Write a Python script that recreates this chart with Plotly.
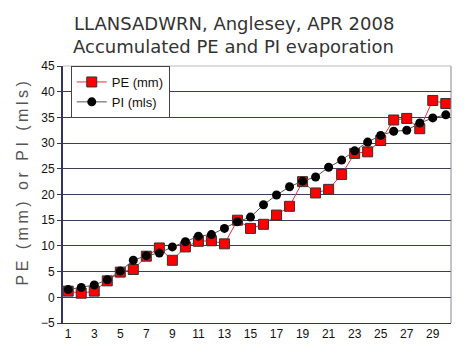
import plotly.graph_objects as go

days = list(range(1, 31))
pe_mm = [1.2, 0.8, 1.2, 3.2, 4.9, 5.4, 8.0, 9.6, 7.2, 9.8, 10.9, 11.0, 10.4, 15.0, 13.4,
         14.2, 16.0, 17.7, 22.5, 20.3, 21.0, 23.9, 28.0, 28.3, 30.5, 34.5, 34.8, 32.8, 38.3, 37.7]
pi_mls = [1.5, 1.9, 2.4, 3.4, 5.1, 7.2, 8.1, 8.6, 9.8, 10.8, 11.9, 12.2, 13.4, 14.7, 15.6,
          18.0, 19.9, 21.5, 22.6, 23.4, 25.3, 26.7, 28.5, 30.2, 31.5, 32.3, 32.5, 33.9, 34.9, 35.5]
x_ticks = list(range(1, 30, 2))
y_ticks = list(range(-5, 46, 5))
title_lines = ["LLANSADWRN, Anglesey, APR 2008", "Accumulated PE and PI evaporation"]
y_title = "PE (mm) or PI (mls)"

fig = go.Figure()
fig.add_trace(go.Scatter(
    x=days, y=pe_mm, name="PE (mm)", mode="lines+markers",
    line=dict(color="#e8303a", width=1),
    marker=dict(symbol="square", size=10, color="#ff0000", line=dict(color="#333333", width=1)),
))
fig.add_trace(go.Scatter(
    x=days, y=pi_mls, name="PI (mls)", mode="lines+markers",
    line=dict(color="#555555", width=1),
    marker=dict(symbol="circle", size=9, color="#000000"),
))

title_font = dict(family="DejaVu Sans, Verdana, sans-serif", size=18, color="#333333")
fig.update_layout(
    width=469, height=353,
    margin=dict(l=63, r=18, t=66, b=25),
    paper_bgcolor="white", plot_bgcolor="white",
    font=dict(family="Liberation Sans, Arial, sans-serif", size=12, color="#111111"),
    showlegend=True,
    legend=dict(
        x=0.02, y=1.0, xanchor="left", yanchor="top",
        bgcolor="white", bordercolor="#444444", borderwidth=1,
        font=dict(size=13, color="#111111"),
        itemwidth=30, tracegroupgap=2,
    ),
    annotations=[
        dict(text=title_lines[0], xref="paper", yref="paper", x=0.44, y=1.0,
             xanchor="center", yanchor="middle", showarrow=False,
             font=title_font, yshift=66 - 23),
        dict(text=title_lines[1], xref="paper", yref="paper", x=0.44, y=1.0,
             xanchor="center", yanchor="middle", showarrow=False,
             font=title_font, yshift=66 - 46),
        dict(text='<span style="letter-spacing:3.5px">' + y_title + '</span>',
             xref="paper", yref="paper", x=0, y=0.5,
             xanchor="center", yanchor="middle", showarrow=False, textangle=-90,
             xshift=-41, yshift=13,
             font=dict(family="Liberation Sans, Arial, sans-serif", size=16, color="#555555")),
    ],
)
fig.update_xaxes(
    range=[0.6, 30.4], tickmode="array", tickvals=x_ticks, ticks="",
    showgrid=False, zeroline=False,
    showline=True, linecolor="#333355", linewidth=1, mirror=False,
    tickfont=dict(size=12, color="#111111"),
)
fig.update_yaxes(
    range=[-5, 45], tickmode="array", tickvals=y_ticks, ticks="outside", ticklen=4,
    tickcolor="#333355",
    showgrid=True, gridcolor="#3c3c5c", gridwidth=1, zeroline=False,
    showline=True, linecolor="#333366", linewidth=2,
    tickfont=dict(size=12, color="#111111"),
)
# right and top borders
fig.add_shape(type="line", xref="paper", yref="paper", x0=1, x1=1, y0=0, y1=1,
              line=dict(color="#888888", width=1))
fig.add_shape(type="line", xref="paper", yref="paper", x0=0, x1=1, y0=1, y1=1,
              line=dict(color="#bbbbbb", width=1))

fig.write_html("out.html")
